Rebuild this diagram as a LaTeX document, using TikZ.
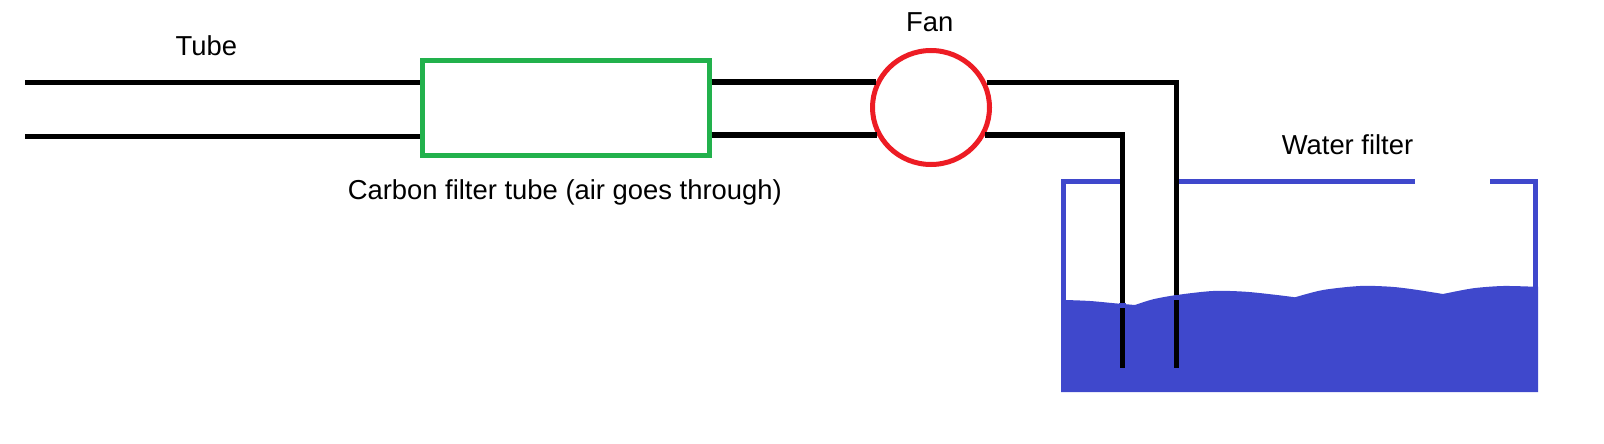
\documentclass[tikz,border=0pt]{standalone}
\usepackage{fontspec}
\setmainfont{Liberation Sans}
\usetikzlibrary{shapes.geometric}
\definecolor{filtergreen}{HTML}{22B14C}
\definecolor{fanred}{HTML}{ED1C24}
\definecolor{waterblue}{HTML}{3F48CC}
\tikzset{
    tube/.style={black,line width=5.4pt},
    tank/.style={waterblue,line width=5.4pt},
    label/.style={anchor=base,inner sep=0pt,font=\fontsize{27.4}{30}\selectfont},
}
\begin{document}
\begin{tikzpicture}[x=1pt,y=-1pt]
    \useasboundingbox (0,0) rectangle (1604,444);
    \tikzstyle{every node}+=[inner sep=0pt]
    \fill [waterblue] (1061,300) -- plot [smooth] coordinates {(1066,300) (1090,301) (1115,303.3) (1135,305)}
        -- plot [smooth] coordinates {(1135,305) (1153,299.3) (1176.7,295) (1213,291) (1245,291.7) (1277,295) (1295,297.3)}
        -- plot [smooth] coordinates {(1295,297.3) (1323,290) (1360,286) (1390,286.7) (1413,289.3) (1443,294)}
        -- plot [smooth] coordinates {(1443,294) (1473,288.3) (1503,286) (1533,286.7)}
        -- (1538,286.7) -- (1538,392) -- (1061,392) -- cycle;
    \draw [tank] (1119.8,181.5) -- (1063.5,181.5) -- (1063.5,302);
    \draw [tank] (1176.8,181.5) -- (1415,181.5);
    \draw [tank] (1490,181.5) -- (1535.5,181.5) -- (1535.5,288);
    \node [draw=filtergreen,line width=5pt,minimum width=286.3pt,minimum height=95pt] (filter) at (566,108.2) {};
    \node [draw=fanred,line width=5pt,ellipse,minimum width=117pt,minimum height=114pt] (fan) at (931,107.5) {};
    \coordinate (tubeTop) at (25,82.5);
    \coordinate (tubeBottom) at (25,136.5);
    \coordinate (outTop) at (1176.3,368);
    \coordinate (outBottom) at (1122.3,368);
    \draw [tube] (tubeTop) -- (tubeTop -| filter.west);
    \draw [tube] (tubeBottom) -- (tubeBottom -| filter.west);
    \draw [tube] (filter.east |- fan.155.2) -- (fan.155.2);
    \draw [tube] (filter.east |- fan.207.9) -- (fan.207.9);
    \draw [tube] (fan.24.8) -| (outTop);
    \draw [tube] (fan.-27.9) -| (outBottom);
    \draw [waterblue,line width=4.7pt] (1119,305.7) -- (1125.5,305.7);
    \draw [waterblue,line width=5pt] (1173.5,297.5) -- (1179,297.5);
    \node [label] (tubeLabel) at (206.4,55.7) {Tube};
    \node [label] (filterLabel) at (564.8,199.5) {Carbon filter tube (air goes through)};
    \node [label] (fanLabel) at (929.8,31.7) {Fan};
    \node [label] (waterLabel) at (1347.5,154.5) {Water filter};
\end{tikzpicture}
\end{document}
